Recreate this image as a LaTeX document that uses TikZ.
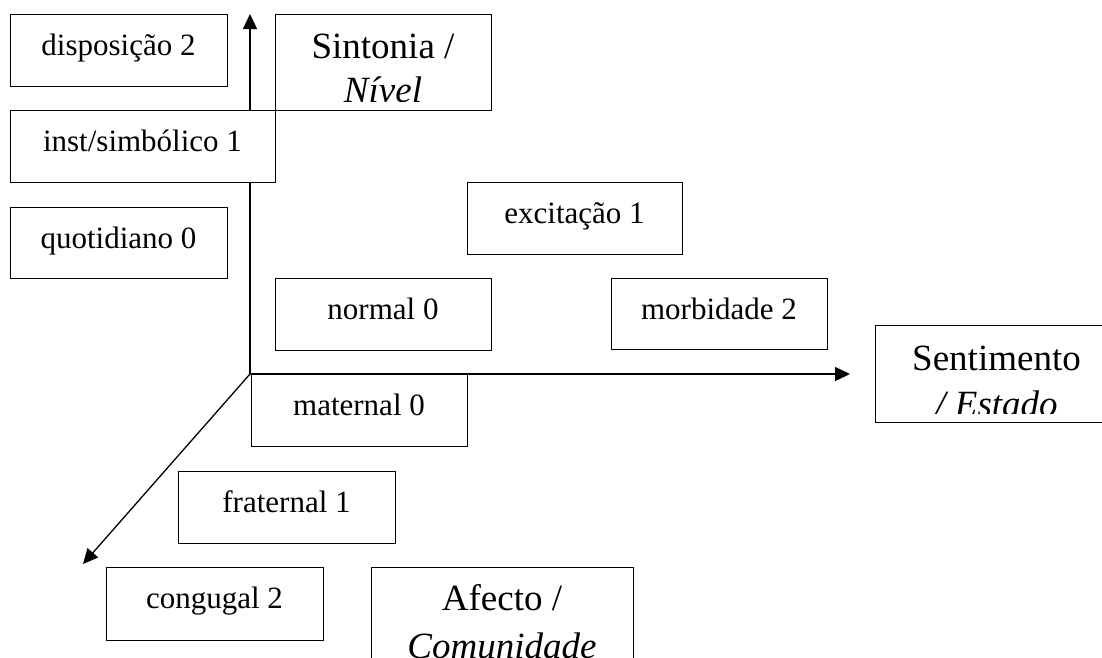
\documentclass[tikz,border=0pt]{standalone}
\usepackage{fontspec}
\setmainfont{Liberation Serif}
\usetikzlibrary{arrows.meta}
\tikzset{
  box/.style={draw, line width=1.4pt, fill=white, inner sep=0pt, anchor=north west},
  lbl/.style={anchor=base, inner sep=0pt, font=\fontsize{31}{36}\selectfont},
  biglbl/.style={anchor=base, inner sep=0pt, font=\fontsize{37}{42}\selectfont},
  axis/.style={line width=1.3pt, -{Triangle[length=15pt,width=14pt]}},
}
\begin{document}
\begin{tikzpicture}[x=1pt,y=-1pt]
\useasboundingbox (0,0) rectangle (1102,657);
\clip (0,0) rectangle (1102,657);

% axes
\coordinate (O) at (250,374);
\coordinate (ytip) at (250,14);
\coordinate (xtip) at (850,374);
\coordinate (ztip) at (83,564);
\draw[axis] (O) -- (ytip);
\draw[axis] (O) -- (xtip);
\draw[axis] (O) -- (ztip);

% boxes
\node[box, minimum width=217pt, minimum height=72pt] (disp) at (10,14) {};
\node[box, minimum width=216pt, minimum height=96pt] (sint) at (275,14) {};
\node[box, minimum width=265pt, minimum height=72pt] (inst) at (10,110) {};
\node[box, minimum width=217pt, minimum height=71pt] (quot) at (10,207) {};
\node[box, minimum width=215pt, minimum height=72pt] (exc) at (467,182) {};
\node[box, minimum width=216pt, minimum height=72pt] (norm) at (275,278) {};
\node[box, minimum width=216pt, minimum height=71pt] (morb) at (611,278) {};
\node[box, minimum width=243pt, minimum height=97pt] (sent) at (875,325) {};
\node[box, minimum width=216pt, minimum height=72pt] (mat) at (251,374) {};
\node[box, minimum width=217pt, minimum height=72pt] (frat) at (178,471) {};
\node[box, minimum width=217pt, minimum height=73pt] (cong) at (106,567) {};
\node[box, minimum width=262pt, minimum height=100pt] (afec) at (371,567) {};

% small labels
\node[lbl] (tdisp) at (118.5,55) {disposição 2};
\node[lbl] (tinst) at (142.5,151) {inst/simbólico 1};
\node[lbl] (tquot) at (118.5,248) {quotidiano 0};
\node[lbl] (texc) at (574.5,223) {excitação 1};
\node[lbl] (tnorm) at (383,319) {normal 0};
\node[lbl] (tmorb) at (719,319) {morbidade 2};
\node[lbl] (tmat) at (359,415) {maternal 0};
\node[lbl] (tfrat) at (286.5,512) {fraternal 1};
\node[lbl] (tcong) at (214.5,608) {congugal 2};

% big labels (clipped inside their boxes)
\begin{scope}
\clip (276,15) rectangle (490,101);
\node[biglbl] (tsint1) at (383,58) {Sintonia /};
\node[biglbl] (tsint2) at (383,102) {\itshape Nível};
\end{scope}
\begin{scope}
\clip (876,326) rectangle (1102,413);
\node[biglbl] (tsent1) at (996.5,370) {Sentimento};
\node[biglbl] (tsent2) at (996.5,416) {\itshape / Estado};
\end{scope}
\begin{scope}
\clip (372,568) rectangle (632,657);
\node[biglbl] (tafec1) at (502,610) {Afecto /};
\node[biglbl] (tafec2) at (502,658) {\itshape Comunidade};
\end{scope}
\end{tikzpicture}
\end{document}
